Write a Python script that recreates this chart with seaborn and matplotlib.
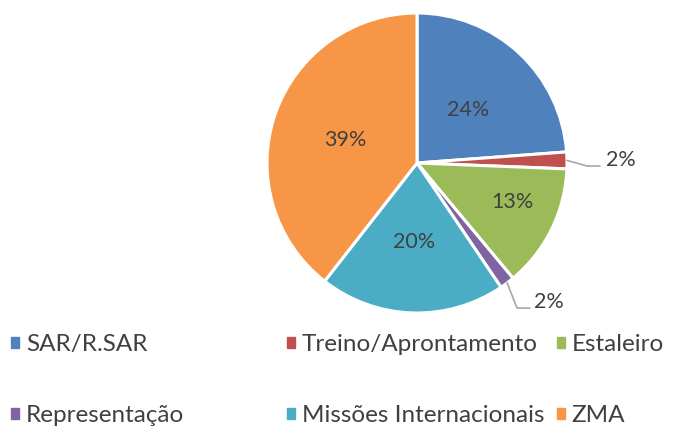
import numpy as np
import matplotlib
matplotlib.use("Agg")
import matplotlib.pyplot as plt
from matplotlib.patches import Rectangle
import seaborn as sns

categories = ["SAR/R.SAR", "Treino/Aprontamento", "Estaleiro",
              "Representação", "Missões Internacionais", "ZMA"]
values = [23.8, 1.8, 13.3, 1.6, 20.0, 39.4]
colors = ["#4F81BD", "#C0504D", "#9BBB59", "#8064A2", "#4BACC6", "#F79646"]

sns.set_theme(style="white")
plt.rcParams['font.family'] = ['Lato', 'DejaVu Sans']
TXT = "#404040"

fig = plt.figure(figsize=(6.82, 4.30), dpi=100)
ax = fig.add_axes([267/682, (430-313)/430, 300/682, 300/430])
wedges, _ = ax.pie(values, colors=colors, startangle=90, counterclock=False,
                   radius=1.0, wedgeprops=dict(edgecolor="white", linewidth=2.2))
ax.set_xlim(-1, 1)
ax.set_ylim(-1, 1)
ax.set_aspect("equal")
ax.axis("off")

total = sum(values)
# inside label radial fractions / angle shifts (Excel best-fit)
inside = {0: (0.49, -1), 2: (0.69, 4), 4: (0.525, 0), 5: (0.50, 1.2)}
for i, w in enumerate(wedges):
    mid = np.deg2rad((w.theta1 + w.theta2) / 2)
    pct = f"{round(values[i] / total * 100):.0f}%"
    if i in inside:
        r, d = inside[i]
        a = mid + np.deg2rad(d)
        ax.text(r * np.cos(a), r * np.sin(a), pct, ha="center", va="center",
                fontsize=15.5, color=TXT)

# outside labels with leader lines
def outside(i, pts, txt_xy):
    w = wedges[i]
    mid = np.deg2rad((w.theta1 + w.theta2) / 2)
    x0, y0 = np.cos(mid) * 1.0, np.sin(mid) * 1.0
    xs = [x0] + [p[0] for p in pts]
    ys = [y0] + [p[1] for p in pts]
    ax.plot(xs, ys, color="#A6A6A6", lw=1.2, clip_on=False)
    pct = f"{round(values[i] / total * 100):.0f}%"
    ax.text(txt_xy[0], txt_xy[1], pct, ha="left", va="center",
            fontsize=15.5, color=TXT, clip_on=False)

outside(1, [(1.133, -0.02), (1.22, -0.02)], (1.26, 0.02))
outside(3, [(0.667, -0.967), (0.753, -0.967)], (0.78, -0.925))

# legend in three columns, reading order row-wise
cols = [[0, 3], [1, 4], [2, 5]]
xs = [11/682, 287/682, 557/682]
for xcol, idx in zip(xs, cols):
    handles = [Rectangle((0, 0), 1, 1, color=colors[k]) for k in idx]
    labels = [categories[k] for k in idx]
    fig.legend(handles, labels, loc="upper left", bbox_to_anchor=(xcol, 1 - 334/430),
               frameon=False, fontsize=17.5, labelcolor=TXT, handlelength=0.33,
               handleheight=0.33, handletextpad=0.28, labelspacing=2.06,
               borderpad=0, borderaxespad=0)

fig.savefig("out.png", dpi=100, facecolor="white")
